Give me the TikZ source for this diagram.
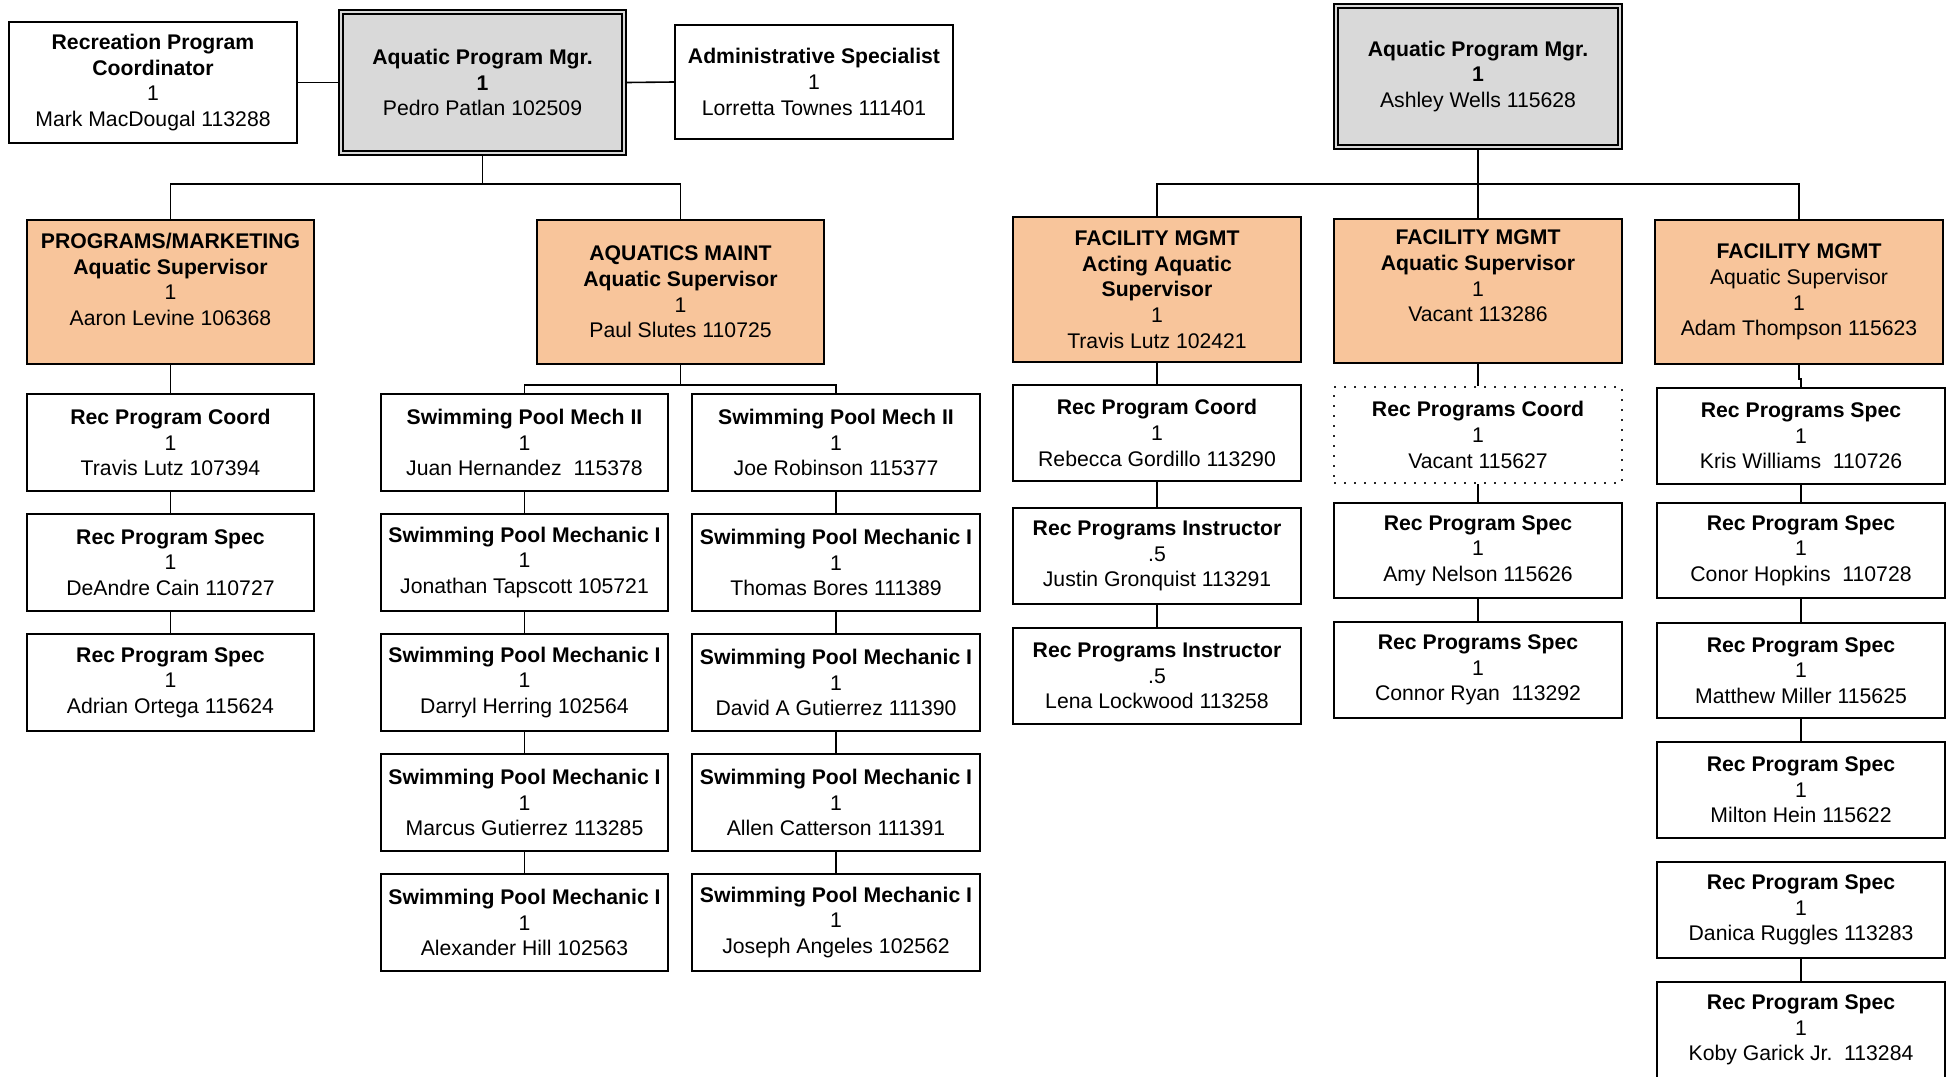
\documentclass[tikz,border=0pt]{standalone}
\usepackage{fontspec}
\setmainfont{Liberation Sans}
\definecolor{mgrgray}{RGB}{217,217,217}
\definecolor{suporange}{RGB}{248,197,155}
\tikzset{
  box/.style={draw=black, line width=1pt, fill=white, inner sep=0pt, rectangle},
  mgrbox/.style={box, fill=mgrgray},
  supbox/.style={box, fill=suporange},
  vacbox/.style={draw=black!85, line width=1pt, dash pattern=on 1pt off 4pt, fill=white, inner sep=0pt, rectangle},
  txt/.style={inner sep=0pt, align=center, font=\fontsize{10.6}{12.8}\selectfont},
  conn/.style={draw=black, line width=0.8pt},
}
% name, x1, y1, x2, y2, style, dy (px, up), text
\newcommand\orgbox[8]{%
  \node[#6, minimum width={(#4-#2)*0.5pt}, minimum height={(#5-#3)*0.5pt}] (#1) at ({(#2+#4)/2},{(#3+#5)/2}) {};
  \node[txt, yshift={#7*0.5pt}] (#1-t) at (#1.center) {#8};
}
\begin{document}
\begin{tikzpicture}[x=0.5pt, y=-0.5pt]
\useasboundingbox (0,0) rectangle (1952,1076);
\fill[white] (0,0) rectangle (1952,1076);

% ---------------- left chart ----------------
\orgbox{RPC}{9}{22}{297}{143}{box}{0}{\textbf{Recreation Program}\\\textbf{Coordinator}\\1\\Mark MacDougal 113288}
\orgbox{P}{339}{10}{626}{155}{mgrbox}{0}{\textbf{Aquatic Program Mgr.}\\\textbf{1}\\Pedro Patlan 102509}
\draw[line width=1pt] ([shift={(5,5)}]P.north west) rectangle ([shift={(-5,-5)}]P.south east);
\orgbox{AS}{675}{25}{953}{139}{box}{0}{\textbf{Administrative Specialist}\\1\\Lorretta Townes 111401}

\orgbox{PM}{27}{220}{314}{364}{supbox}{12.5}{\textbf{PROGRAMS/MARKETING}\\\textbf{Aquatic Supervisor}\\1\\Aaron Levine 106368}
\orgbox{AM}{537}{220}{824}{364}{supbox}{0}{\textbf{AQUATICS MAINT}\\\textbf{Aquatic Supervisor}\\1\\Paul Slutes 110725}

\orgbox{L1}{27}{394}{314}{491}{box}{0}{\textbf{Rec Program Coord}\\1\\Travis Lutz 107394}
\orgbox{L2}{27}{514}{314}{611}{box}{0}{\textbf{Rec Program Spec}\\1\\DeAndre Cain 110727}
\orgbox{L3}{27}{634}{314}{731}{box}{0}{\textbf{Rec Program Spec}\\1\\Adrian Ortega 115624}

\orgbox{MA1}{381}{394}{668}{491}{box}{0}{\textbf{Swimming Pool Mech II}\\1\\Juan Hernandez\ \ 115378}
\orgbox{MA2}{381}{514}{668}{611}{box}{0}{\textbf{Swimming Pool Mechanic I}\\1\\Jonathan Tapscott 105721}
\orgbox{MA3}{381}{634}{668}{731}{box}{0}{\textbf{Swimming Pool Mechanic I}\\1\\Darryl Herring 102564}
\orgbox{MA4}{381}{754}{668}{851}{box}{0}{\textbf{Swimming Pool Mechanic I}\\1\\Marcus Gutierrez 113285}
\orgbox{MA5}{381}{874}{668}{971}{box}{0}{\textbf{Swimming Pool Mechanic I}\\1\\Alexander Hill 102563}

\orgbox{MB1}{692}{394}{980}{491}{box}{0}{\textbf{Swimming Pool Mech II}\\1\\Joe Robinson 115377}
\orgbox{MB2}{692}{514}{980}{611}{box}{0}{\textbf{Swimming Pool Mechanic I}\\1\\Thomas Bores 111389}
\orgbox{MB3}{692}{634}{980}{731}{box}{0}{\textbf{Swimming Pool Mechanic I}\\1\\David A Gutierrez 111390}
\orgbox{MB4}{692}{754}{980}{851}{box}{0}{\textbf{Swimming Pool Mechanic I}\\1\\Allen Catterson 111391}
\orgbox{MB5}{692}{874}{980}{971}{box}{0}{\textbf{Swimming Pool Mechanic I}\\1\\Joseph Angeles 102562}

\coordinate (pbar) at (482.5,184);
\coordinate (ambar) at (680.5,385);
\draw[conn] (RPC.east) -- (P.west);
\draw[conn] (P.east) -- (AS.west);
\draw[conn] (P.south) -- (pbar);
\draw[conn] (PM.north) |- (pbar) -| (AM.north);
\draw[conn] (PM.south) -- (L1.north);
\draw[conn] (L1.south) -- (L2.north);
\draw[conn] (L2.south) -- (L3.north);
\draw[conn] (AM.south) -- (ambar);
\draw[conn] (MA1.north) |- (ambar) -| (MB1.north);
\draw[conn] (MA1.south) -- (MA2.north);
\draw[conn] (MA2.south) -- (MA3.north);
\draw[conn] (MA3.south) -- (MA4.north);
\draw[conn] (MA4.south) -- (MA5.north);
\draw[conn] (MB1.south) -- (MB2.north);
\draw[conn] (MB2.south) -- (MB3.north);
\draw[conn] (MB3.south) -- (MB4.north);
\draw[conn] (MB4.south) -- (MB5.north);

% ---------------- right chart ----------------
\orgbox{A}{1334}{4}{1622}{149}{mgrbox}{0}{\textbf{Aquatic Program Mgr.}\\\textbf{1}\\Ashley Wells 115628}
\draw[line width=1pt] ([shift={(5,5)}]A.north west) rectangle ([shift={(-5,-5)}]A.south east);

\orgbox{F1}{1013}{217}{1301}{362}{supbox}{0}{\textbf{FACILITY MGMT}\\\textbf{Acting Aquatic}\\\textbf{Supervisor}\\1\\Travis Lutz 102421}
\orgbox{F2}{1334}{219}{1622}{363}{supbox}{15}{\textbf{FACILITY MGMT}\\\textbf{Aquatic Supervisor}\\1\\Vacant 113286}
\orgbox{F3}{1655}{220}{1943}{364}{supbox}{0}{\textbf{FACILITY MGMT}\\Aquatic Supervisor\\1\\Adam Thompson 115623}

\orgbox{C11}{1013}{385}{1301}{481}{box}{0}{\textbf{Rec Program Coord}\\1\\Rebecca Gordillo 113290}
\orgbox{C12}{1013}{508}{1301}{604}{box}{0}{\textbf{Rec Programs Instructor}\\.5\\Justin Gronquist 113291}
\orgbox{C13}{1013}{628}{1301}{724}{box}{0}{\textbf{Rec Programs Instructor}\\.5\\Lena Lockwood 113258}

\orgbox{C21}{1334}{387}{1622}{483}{vacbox}{0}{\textbf{Rec Programs Coord}\\1\\Vacant 115627}
\orgbox{C22}{1334}{503}{1622}{598}{box}{0}{\textbf{Rec Program Spec}\\1\\Amy Nelson 115626}
\orgbox{C23}{1334}{622}{1622}{718}{box}{0}{\textbf{Rec Programs Spec}\\1\\Connor Ryan\ \ 113292}

\orgbox{C31}{1657}{388}{1945}{484}{box}{0}{\textbf{Rec Programs Spec}\\1\\Kris Williams\ \ 110726}
\orgbox{C32}{1657}{503}{1945}{598}{box}{0}{\textbf{Rec Program Spec}\\1\\Conor Hopkins\ \ 110728}
\orgbox{C33}{1657}{623}{1945}{718}{box}{0}{\textbf{Rec Program Spec}\\1\\Matthew Miller 115625}
\orgbox{C34}{1657}{742}{1945}{838}{box}{0}{\textbf{Rec Program Spec}\\1\\Milton Hein 115622}
\orgbox{C35}{1657}{862}{1945}{958}{box}{0}{\textbf{Rec Program Spec}\\1\\Danica Ruggles 113283}
\orgbox{C36}{1657}{982}{1945}{1078}{box}{0}{\textbf{Rec Program Spec}\\1\\Koby Garick Jr.\ \ 113284}

\coordinate (abar) at (1478,184);
\draw[conn] (A.south) -- (abar);
\draw[conn] (F1.north) |- (abar) -| (F3.north);
\draw[conn] (abar) -- (F2.north);
\draw[conn] (F1.south) -- (C11.north);
\draw[conn] (C11.south) -- (C12.north);
\draw[conn] (C12.south) -- (C13.north);
\draw[conn] (F2.south) -- (C21.north);
\draw[conn] (C21.south) -- (C22.north);
\draw[conn] (C22.south) -- (C23.north);
\draw[conn] (F3.south) -- ++(0,14) -| (C31.north);
\draw[conn] (C31.south) -- (C32.north);
\draw[conn] (C32.south) -- (C33.north);
\draw[conn] (C33.south) -- (C34.north);
\draw[conn] (C35.south) -- (C36.north);
\end{tikzpicture}
\end{document}
